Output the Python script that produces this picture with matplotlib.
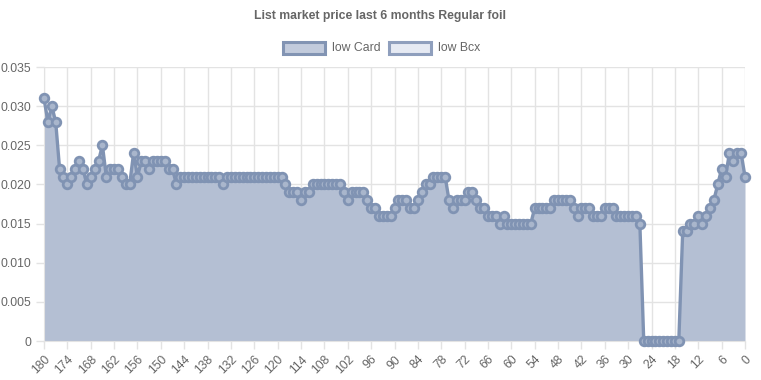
import numpy as np
import matplotlib
matplotlib.use("Agg")
from matplotlib import pyplot as plt
from matplotlib.patches import Rectangle

plt.rcParams['font.family'] = ['Liberation Sans', 'DejaVu Sans']

# days before today, 180 -> 0
days = list(range(180, -1, -1))

# low Card price per day
low_card = [
    0.031, 0.028, 0.030, 0.028, 0.022,
    0.021, 0.020, 0.021, 0.022, 0.023, 0.022, 0.020, 0.021, 0.022, 0.023,
    0.025, 0.021, 0.022, 0.022, 0.022, 0.021, 0.020, 0.020, 0.024, 0.021,
    0.023, 0.023, 0.022, 0.023, 0.023, 0.023, 0.023, 0.022, 0.022, 0.020,
    0.021, 0.021, 0.021, 0.021, 0.021, 0.021, 0.021, 0.021, 0.021, 0.021,
    0.021, 0.020, 0.021, 0.021, 0.021, 0.021, 0.021, 0.021, 0.021, 0.021,
    0.021, 0.021, 0.021, 0.021, 0.021, 0.021, 0.021, 0.020, 0.019, 0.019,
    0.019, 0.018, 0.019, 0.019, 0.020, 0.020, 0.020, 0.020, 0.020, 0.020,
    0.020, 0.020, 0.019, 0.018, 0.019, 0.019, 0.019, 0.019, 0.018, 0.017,
    0.017, 0.016, 0.016, 0.016, 0.016, 0.017, 0.018, 0.018, 0.018, 0.017,
    0.017, 0.018, 0.019, 0.020, 0.020, 0.021, 0.021, 0.021, 0.021, 0.018,
    0.017, 0.018, 0.018, 0.018, 0.019, 0.019, 0.018, 0.017, 0.017, 0.016,
    0.016, 0.016, 0.015, 0.016, 0.015, 0.015, 0.015, 0.015, 0.015, 0.015,
    0.015, 0.017, 0.017, 0.017, 0.017, 0.017, 0.018, 0.018, 0.018, 0.018,
    0.018, 0.017, 0.016, 0.017, 0.017, 0.017, 0.016, 0.016, 0.016, 0.017,
    0.017, 0.017, 0.016, 0.016, 0.016, 0.016, 0.016, 0.016, 0.015, 0.0,
    0.0, 0.0, 0.0, 0.0, 0.0, 0.0, 0.0, 0.0, 0.0, 0.014,
    0.014, 0.015, 0.015, 0.016, 0.015, 0.016, 0.017, 0.018, 0.020, 0.022,
    0.021, 0.024, 0.023, 0.024, 0.024, 0.021,
]

x_labels = [str(d) for d in days]
y_ticks = [0, 0.005, 0.010, 0.015, 0.020, 0.025, 0.030, 0.035]
y_labels = ["0", "0.005", "0.010", "0.015", "0.020", "0.025", "0.030", "0.035"]

series_names = ["low Card", "low Bcx"]

line_col = "#8093b3"
fill_col = "#b4bfd3"
grid_col = "#e3e3e3"
text_col = "#666666"

W, H = 761, 380
fig = plt.figure(figsize=(W / 100, H / 100), dpi=100)
ax = fig.add_axes([44 / W, 1 - 341 / H, 701 / W, 274 / H])

xs = np.arange(len(days))
ax.fill_between(xs, low_card, 0, color=fill_col, linewidth=0, zorder=1)
ax.plot(xs, low_card, color=line_col, linewidth=2.4, marker="o", markersize=6.2,
        markerfacecolor="#a9b6cc", markeredgecolor=line_col, markeredgewidth=2.0,
        zorder=3, clip_on=False)

ax.set_xlim(0, len(days) - 1)
ax.set_ylim(0, 0.035)

tick_idx = xs[::6]
ax.set_xticks(tick_idx)
ax.set_xticklabels([x_labels[i] for i in tick_idx], rotation=45, ha="right",
                   rotation_mode="anchor")
ax.set_yticks(y_ticks)
ax.set_yticklabels(y_labels)

ax.tick_params(axis="both", colors=grid_col, labelcolor=text_col, labelsize=8.8,
               length=6, width=1, pad=3)
ax.grid(True, color=grid_col, linewidth=1, zorder=0)
ax.set_axisbelow(True)
for s in ["top", "right"]:
    ax.spines[s].set_visible(False)
for s in ["left", "bottom"]:
    ax.spines[s].set_color(grid_col)

fig.text(0.5, 1 - 16 / H, "List market price last 6 months Regular foil",
         ha="center", va="center", fontsize=8.8, fontweight="bold", color=text_col)

# legend boxes
leg = [(283, series_names[0], "#c2cbdc", "#8294b3"),
       (389, series_names[1], "#e6eaf3", "#8f9fbd")]
for x0, name, fc, ec in leg:
    r = Rectangle((x0 / W, 1 - 54 / H), 42 / W, 12 / H, transform=fig.transFigure,
                  facecolor=fc, edgecolor=ec, linewidth=2.2)
    fig.patches.append(r)
    fig.text((x0 + 49) / W, 1 - 48 / H, name, ha="left", va="center",
             fontsize=8.8, color=text_col)

fig.savefig("out.png", dpi=100)
